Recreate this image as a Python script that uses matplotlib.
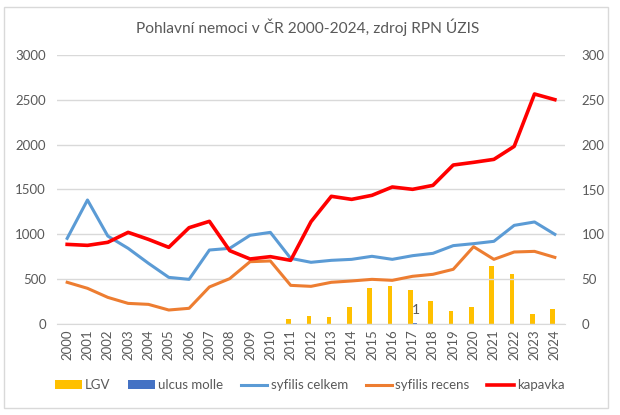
import matplotlib.pyplot as plt
import numpy as np
from matplotlib.patches import Rectangle

plt.rcParams['font.family'] = ['Lato', 'DejaVu Sans']

years = [str(y) for y in range(2000, 2025)]

syfilis_celkem = [955, 1383, 981, 844, 677, 520, 498, 825, 844, 989, 1022, 732, 688,
                  710, 721, 755, 721, 762, 788, 874, 896, 922, 1100, 1138, 1000]
syfilis_recens = [465, 398, 297, 230, 219, 156, 175, 413, 506, 695, 703, 431, 420,
                  465, 480, 498, 487, 532, 554, 610, 862, 721, 803, 810, 743]
kapavka = [888, 877, 911, 1022, 944, 855, 1074, 1145, 818, 725, 751, 710, 1141,
           1424, 1390, 1435, 1528, 1502, 1546, 1773, 1803, 1836, 1981, 2565, 2502]
lgv = [0, 0, 0, 0, 0, 0, 0, 0, 0, 0, 0, 6, 9, 8, 19, 40, 42, 38, 26, 15, 19, 65, 56, 11, 17]
ulcus_molle = [0, 0, 0, 0, 0, 0, 0, 0, 0, 0, 0, 0, 0, 0, 0, 0, 0, 1, 0, 0, 0, 0, 0, 0, 0]

grey = '#595959'

fig = plt.figure(figsize=(6.2, 4.15), dpi=100)
ax = fig.add_axes([57/620, 1-324/415, 508/620, 269/415])
ax2 = ax.twinx()
ax.set_zorder(ax2.get_zorder() + 1)
ax.patch.set_visible(False)

x = np.arange(len(years))
w = 0.22
b1 = ax2.bar(x - w/2, lgv, w, color='#FFC000', label='LGV')
b2 = ax2.bar(x + w/2, ulcus_molle, w, color='#4472C4', label='ulcus molle')
for xi, v in zip(x, ulcus_molle):
    if v > 0:
        ax2.text(xi + w/2 + 0.05, v + 8, str(v), ha='center', va='bottom', fontsize=10, color=grey)

l1, = ax.plot(x, syfilis_celkem, color='#5B9BD5', lw=2.2, label='syfilis celkem')
l2, = ax.plot(x, syfilis_recens, color='#ED7D31', lw=2.2, label='syfilis recens')
l3, = ax.plot(x, kapavka, color='#FF0000', lw=2.6, label='kapavka')

ax.set_xlim(-0.5, len(years) - 0.5)
ax.set_ylim(0, 3000)
ax2.set_ylim(0, 300)
ax.set_yticks(range(0, 3001, 500))
ax2.set_yticks(range(0, 301, 50))
ax.set_xticks(x)
ax.set_xticklabels(years, rotation=90)
ax.yaxis.grid(True, color='#D9D9D9', lw=1)
ax.set_axisbelow(True)
for a in (ax, ax2):
    for s in a.spines.values():
        s.set_visible(False)
    a.tick_params(length=0, labelsize=9.5, colors=grey)
ax.spines['bottom'].set_visible(True)
ax.spines['bottom'].set_color('#D9D9D9')
ax.tick_params(axis='y', pad=8)
ax2.tick_params(axis='y', pad=12)
ax.tick_params(axis='x', pad=4)

fig.text(0.497, 1-27/415, 'Pohlavní nemoci v ČR 2000-2024, zdroj RPN ÚZIS',
         ha='center', va='center', fontsize=11.2, color=grey)

fig.legend([b1, b2, l1, l2, l3], ['LGV', 'ulcus molle', 'syfilis celkem', 'syfilis recens', 'kapavka'],
           loc='center', bbox_to_anchor=(0.5, 1-385/415), ncol=5, frameon=False,
           fontsize=9.5, labelcolor=grey, handlelength=2.0, handleheight=0.6,
           handletextpad=0.25, columnspacing=1.35)

fig.patches.append(Rectangle((4/620, 1-408/415), 604/620, 401/415, transform=fig.transFigure,
                             fill=False, edgecolor='#D9D9D9', lw=1))

fig.savefig('out.png', dpi=100)
